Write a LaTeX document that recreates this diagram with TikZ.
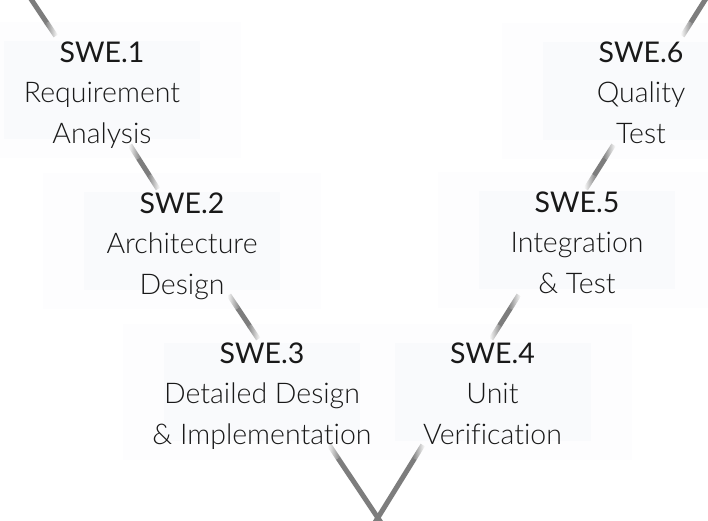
\documentclass[tikz,border=0pt]{standalone}
\usepackage{fontspec}
\IfFontExistsTF{Lato Light}{\newfontfamily\lfont{Lato Light}[Ligatures={NoCommon}]}{\newfontfamily\lfont{Lato}[Ligatures={NoCommon}]}
\newfontfamily\tfont{Lato}[Ligatures={NoCommon}]
\definecolor{vgray}{RGB}{125,125,125}
\definecolor{txt}{RGB}{25,25,25}
\definecolor{boxout}{RGB}{253,253,254}
\definecolor{boxin}{RGB}{249,250,252}
\newcommand\vseg[6]{%
 \pgfmathsetmacro\sgL{veclen(#3-#1,#4-#2)}%
 \pgfmathsetmacro\sgA{atan2(-(#4-#2),#3-#1)}%
 \pgfmathsetmacro\sgP{#5}%
 \pgfmathsetmacro\sgQ{\sgL-#6}%
 \begin{scope}[shift={(#1,#2)},rotate=\sgA,x=1pt,y=1pt]
   \fill[vgray] (\sgP-0.3,-2.5) rectangle (\sgQ+0.3,2.5);
   \shade[left color=white,right color=vgray] (0,-2.5) rectangle (\sgP,2.5);
   \shade[left color=vgray,right color=white] (\sgQ,-2.5) rectangle (\sgL,2.5);
 \end{scope}}
\begin{document}
\begin{tikzpicture}[x=1pt,y=-1pt,
  lbl/.style={align=center,inner sep=0pt,anchor=base,text=txt,
    font=\lfont\fontsize{28.5}{40.5}\selectfont}]
\useasboundingbox (0,0) rectangle (708,520);
\clip (0,0) rectangle (708,520);
\fill[white] (0,0) rectangle (708,520);
% outer boxes
\foreach \cx/\mb in {102/102,182/253,262/403.5,492.5/403.5,577/252,641/102.5}{
  \fill[boxout] (\cx-139,\mb-80) rectangle (\cx+139,\mb+56);}
\foreach \cx/\mb in {102/102,182/253,262/403.5,492.5/403.5,577/252,641/102.5}{
  \fill[boxin] (\cx-98,\mb-61) rectangle (\cx+98,\mb+37);}
% V lines
\coordinate (tl) at (37,8);
\coordinate (vt) at (378,518);
\coordinate (tr) at (700,8);
\vseg{29.6}{-3}{55.7}{36}{1}{16}
\vseg{129.9}{145}{158.0}{189}{16}{16}
\vseg{228.9}{295}{258.3}{339}{16}{16}
\vseg{329.2}{445}{382.0}{524}{16}{1}
\vseg{682.3}{36}{706.9}{-3}{16}{1}
\vseg{585.7}{189}{613.5}{145}{16}{16}
\vseg{491.0}{339}{518.8}{295}{16}{16}
\vseg{374.0}{524}{422.8}{445}{1}{16}
% labels (anchor base = last line)
\node[lbl] (s1) at (102,143) {{\tfont SWE.1}\\Requirement\\Analysis};
\node[lbl] (s2) at (182,294) {{\tfont SWE.2}\\Architecture\\Design};
\node[lbl] (s3) at (262,444) {{\tfont SWE.3}\\Detailed Design\\\& Implementation};
\node[lbl] (s4) at (492.5,444) {{\tfont SWE.4}\\Unit\\Verification};
\node[lbl] (s5) at (577,293) {{\tfont SWE.5}\\Integration\\\& Test};
\node[lbl] (s6) at (641,143) {{\tfont SWE.6}\\Quality\\Test};
\end{tikzpicture}
\end{document}
